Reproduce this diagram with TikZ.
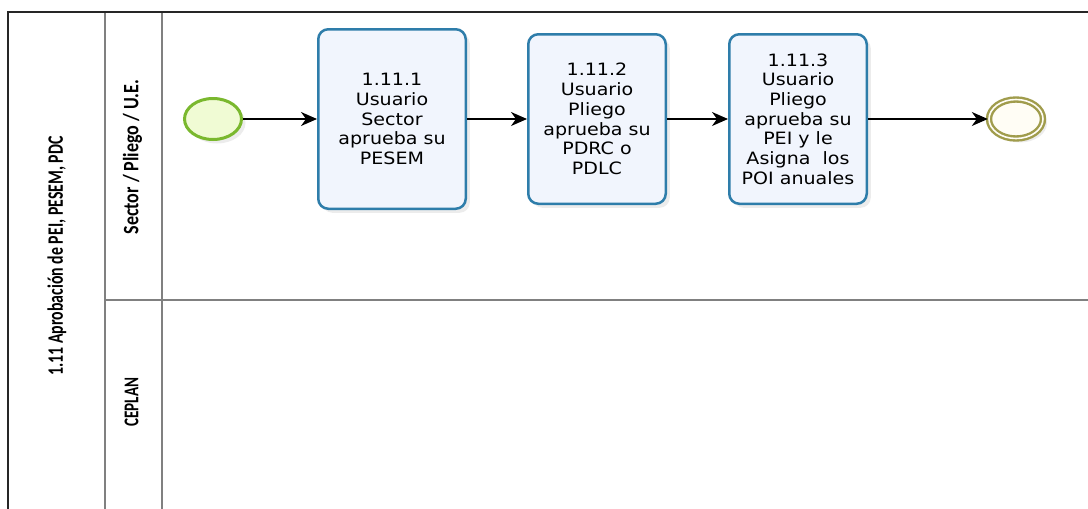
\documentclass[tikz,border=0pt]{standalone}
\usepackage{fontspec}
\setmainfont{DejaVu Sans}[FakeStretch=1.12]
\newfontfamily\lanefont{Carlito}[FakeStretch=0.82]
\newfontfamily\ceplanfont{Carlito}[FakeStretch=0.72]
\usetikzlibrary{arrows.meta}
\usetikzlibrary{shapes.geometric}
\usetikzlibrary{shadows}

\definecolor{taskblue}{RGB}{46,125,170}
\definecolor{taskfill}{RGB}{241,245,253}
\definecolor{startgreen}{RGB}{122,184,46}
\definecolor{startfill}{RGB}{240,251,212}
\definecolor{endolive}{RGB}{160,156,76}
\definecolor{endfill}{RGB}{255,253,245}
\definecolor{laneline}{RGB}{128,128,128}

\tikzset{task/.style={draw=taskblue, line width=2.5pt, rounded corners=10pt,
   fill=taskfill, align=center, inner sep=0pt,
   font=\fontsize{17}{19.7}\selectfont,
   drop shadow={shadow xshift=4pt, shadow yshift=-4pt, opacity=0.15}},
 startev/.style={ellipse, draw=startgreen, line width=3pt, fill=startfill,
   minimum width=57pt, minimum height=41pt, inner sep=0pt,
   drop shadow={shadow xshift=4pt, shadow yshift=-4pt, opacity=0.15}},
 endev/.style={ellipse, draw=endolive, double=endfill, line width=2.4pt,
   double distance=1.6pt, fill=endfill, minimum width=54pt, minimum height=39pt,
   inner sep=0pt,
   drop shadow={shadow xshift=4pt, shadow yshift=-4pt, opacity=0.15}},
 flow/.style={draw=black, line width=1.5pt, -{Stealth[length=16pt,width=14pt,inset=5pt]}},
 poolline/.style={draw=black!85, line width=2pt},
 laneline/.style={draw=laneline, line width=1.5pt},
 lanetitle/.style={rotate=90, font=\lanefont\bfseries\fontsize{19}{22}\selectfont},
}

\begin{document}
\begin{tikzpicture}[x=1pt, y=-1pt]
        \useasboundingbox (0,0) rectangle (1088,509);

        % pool and lanes
        \draw[laneline] (105,12) -- (105,515);
        \draw[laneline] (162,12) -- (162,515);
        \draw[laneline] (105,300) -- (1095,300);
        \draw[poolline] (8,515) -- (8,12) -- (1095,12);

        \node[lanetitle, font=\ceplanfont\bfseries\fontsize{22}{25}\selectfont] (pooltitle) at (57,256) {1.11 Aprobación de PEI, PESEM, PDC};
        \node[lanetitle, font=\lanefont\bfseries\fontsize{22}{25}\selectfont] (lanesector) at (132.5,157) {Sector / Pliego / U.E.};
        \node[lanetitle, font=\ceplanfont\bfseries\fontsize{21}{24}\selectfont] (laneceplan) at (131.5,402) {CEPLAN};

        % flow
        \node[startev] (start) at (213,119) {};
        \node[task, minimum width=147.5pt, minimum height=179.5pt] (t1111) at (392,119)
            {1.11.1\\Usuario\\Sector\\aprueba su\\PESEM};
        \node[task, minimum width=137.5pt, minimum height=169.5pt] (t1112) at (597,119)
            {1.11.2\\Usuario\\Pliego\\aprueba su\\PDRC o\\PDLC};
        \node[task, minimum width=137.5pt, minimum height=169.5pt] (t1113) at (798,119)
            {1.11.3\\Usuario\\Pliego\\aprueba su\\PEI y le\\Asigna~ los\\POI anuales};
        \node[endev] (fin) at (1016,119) {};

        \draw[flow] (start) -- (t1111);
        \draw[flow] (t1111) -- (t1112);
        \draw[flow] (t1112) -- (t1113);
        \draw[flow] (t1113) -- (fin);
\end{tikzpicture}
\end{document}
